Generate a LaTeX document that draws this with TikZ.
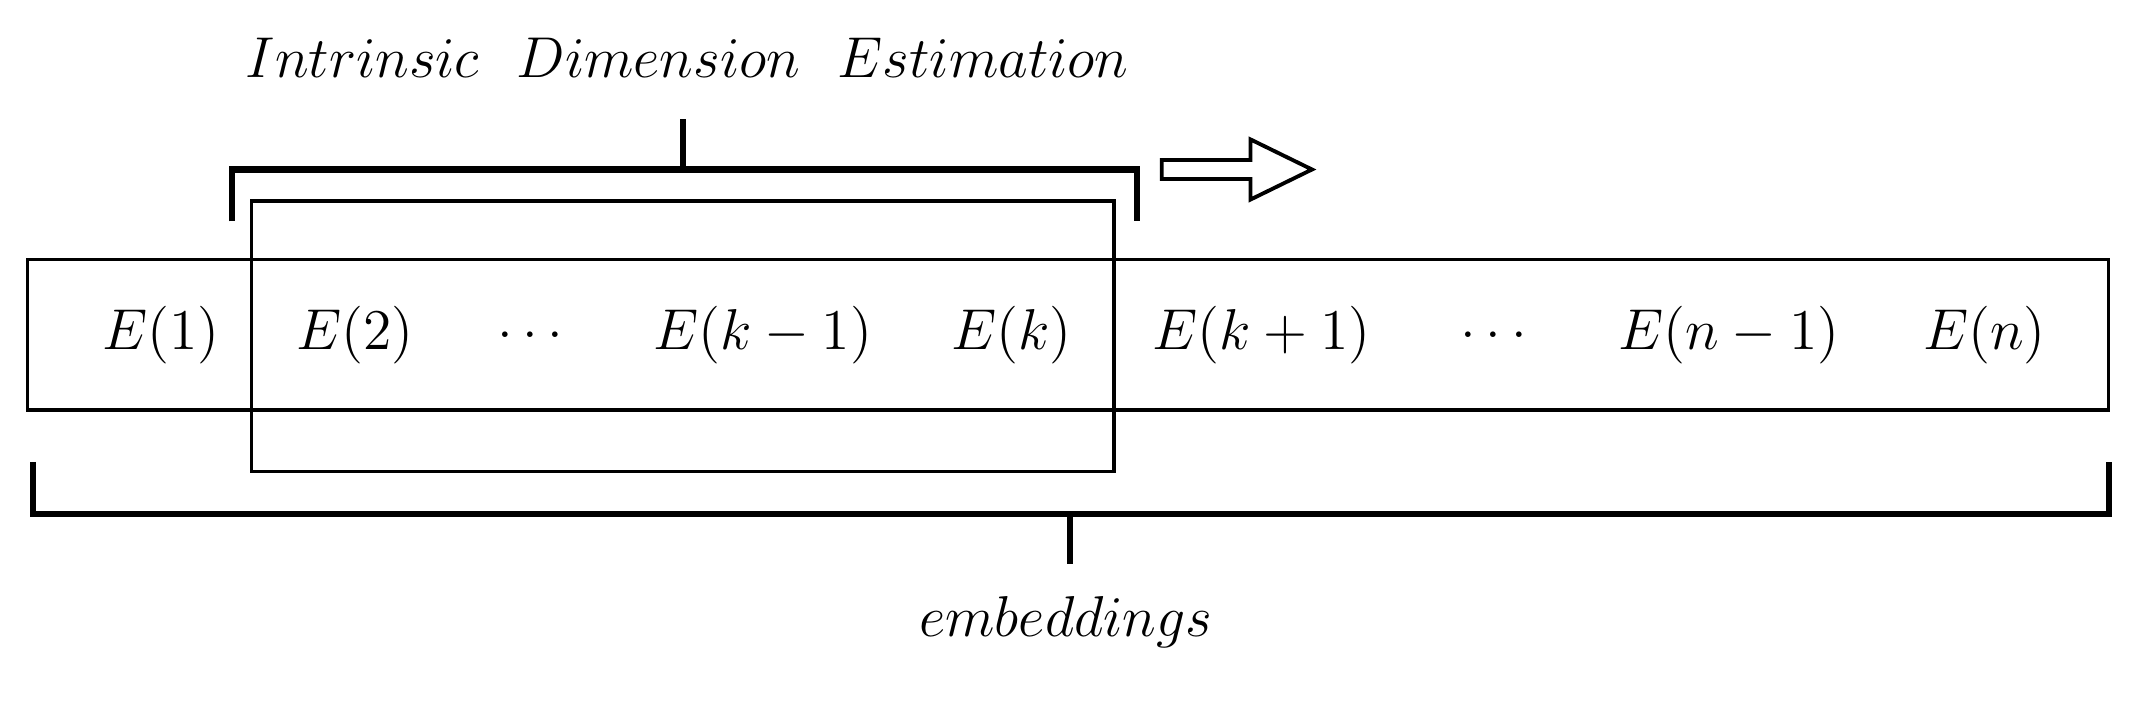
\documentclass[tikz,border=0pt]{standalone}
\usepackage{amsmath}
\usepackage{tikz}
\usetikzlibrary{positioning}
\tikzset{
	bracket/.style={line width=1.3pt},
	box/.style={draw, line width=0.7pt},
	emb/.style={font=\large}
}

\begin{document}
\begin{tikzpicture}[font=\large]
\useasboundingbox (0,0) rectangle (15.6,-5.24);

\node (title) at (5.03,-0.42) {$Intrinsic\ \ Dimension\ \ Estimation$};
\node (label) at (7.8,-4.55) {$embeddings$};

\draw[box] (0.2,-1.9) rectangle (15.43,-3.0);
\draw[box] (1.84,-1.47) rectangle (8.15,-3.45);

\node[emb] (e1) at (1.18,-2.45) {$E(1)$};
\node[emb] (e2) at (2.6,-2.45) {$E(2)$};
\node[emb] (d1) at (3.88,-2.45) {$\ldots$};
\node[emb] (ekm) at (5.58,-2.45) {$E(k-1)$};
\node[emb] (ek) at (7.4,-2.45) {$E(k)$};
\node[emb] (ekp) at (9.23,-2.45) {$E(k+1)$};
\node[emb] (d2) at (10.93,-2.45) {$\ldots$};
\node[emb] (enm) at (12.65,-2.45) {$E(n-1)$};
\node[emb] (en) at (14.52,-2.45) {$E(n)$};

% top bracket
\coordinate (tl) at (1.7,-1.62);
\coordinate (tr) at (8.32,-1.62);
\coordinate (ts) at (5.0,-1.24);
\draw[bracket] (tl) |- (ts) -| (tr);
\draw[bracket] (ts) -- (5.0,-0.87);

% slide arrow
\draw[line width=0.8pt] (8.5,-1.17) -- (9.15,-1.17) -- (9.15,-1.02) -- (9.6,-1.24)
  -- (9.15,-1.46) -- (9.15,-1.31) -- (8.5,-1.31) -- cycle;

% bottom bracket
\coordinate (bl) at (0.24,-3.38);
\coordinate (br) at (15.43,-3.38);
\coordinate (bs) at (7.83,-3.76);
\draw[bracket] (bl) |- (bs) -| (br);
\draw[bracket] (bs) -- (7.83,-4.13);
\end{tikzpicture}
\end{document}
